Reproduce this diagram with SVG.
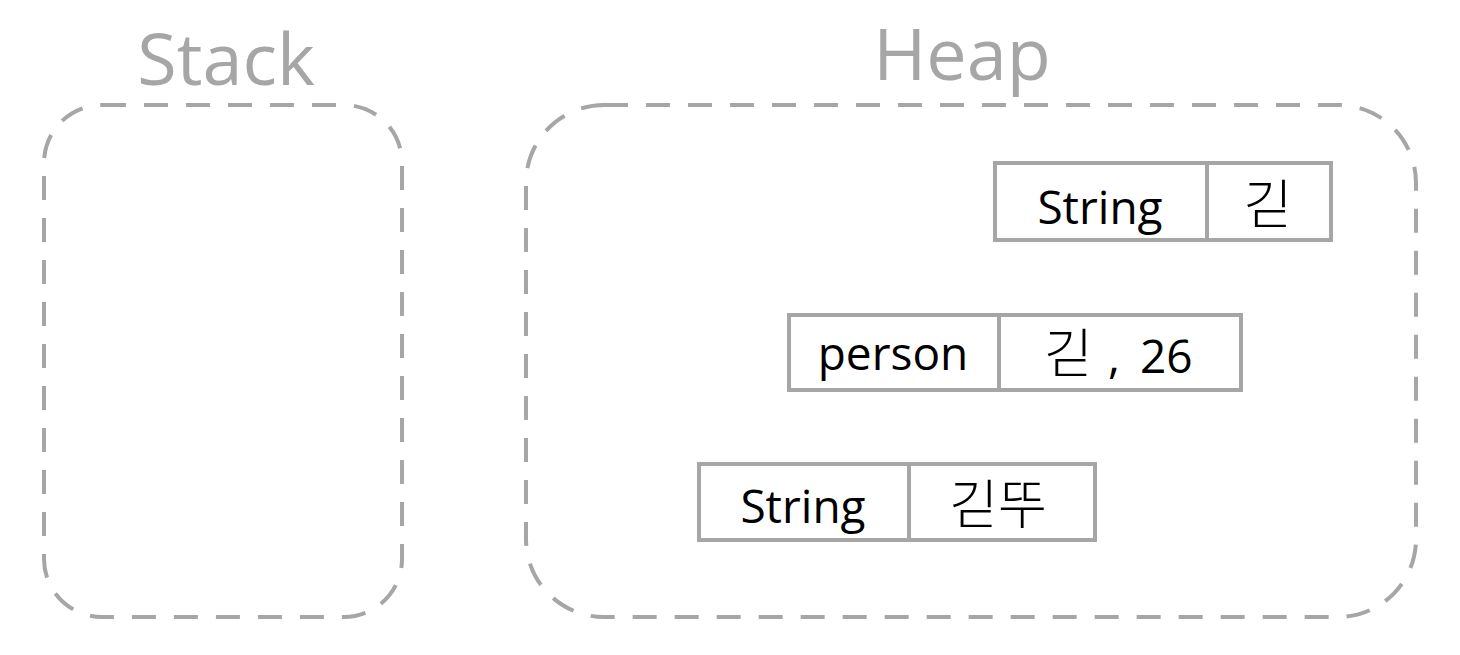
<svg xmlns="http://www.w3.org/2000/svg" width="1460" height="655" viewBox="0 0 1460 655">
  <style>
    .area { fill: none; stroke: #a6a6a6; stroke-width: 4; stroke-dasharray: 24 18; }
    .title { font-family: "Open Sans", "Noto Sans", sans-serif; font-size: 72px; fill: #a6a6a6; text-anchor: middle; }
    .cell { fill: #ffffff; stroke: #a6a6a6; stroke-width: 4; }
    .label { font-family: "Open Sans", "Noto Sans", "Noto Sans CJK KR", sans-serif; font-size: 46px; fill: #000000; text-anchor: middle; }
    .start { text-anchor: start; }
    .ko { font-family: "Noto Sans CJK KR", sans-serif; font-size: 53px; font-weight: 300; }
  </style>
  <rect width="1460" height="655" fill="#ffffff"/>
  <g id="stack">
    <rect class="area" x="44" y="105" width="358" height="512" rx="58" ry="58"/>
    <text class="title" x="226" y="85">Stack</text>
  </g>
  <g id="heap">
    <rect class="area" x="526" y="105" width="890" height="512" rx="78" ry="78"/>
    <text class="title" x="962" y="80">Heap</text>
  </g>
  <g id="string1">
    <rect class="cell" x="995" y="163" width="212" height="77"/>
    <rect class="cell" x="1207" y="163" width="124" height="77"/>
    <text class="label" x="1100" y="224">String</text>
    <text class="label" x="1268" y="224"><tspan class="ko">긷</tspan></text>
  </g>
  <g id="person">
    <rect class="cell" x="789" y="315" width="210" height="75"/>
    <rect class="cell" x="999" y="315" width="242" height="75"/>
    <text class="label" x="893" y="370" font-size="44">person</text>
    <text class="label start" y="373"><tspan class="ko" x="1044">긷</tspan><tspan x="1108">,</tspan><tspan x="1140">26</tspan></text>
  </g>
  <g id="string2">
    <rect class="cell" x="699" y="464" width="210" height="76"/>
    <rect class="cell" x="909" y="464" width="186" height="76"/>
    <text class="label" x="803" y="523">String</text>
    <text class="label" x="998" y="524"><tspan class="ko">긷뚜</tspan></text>
  </g>
  <g id="connectors"></g>
</svg>
